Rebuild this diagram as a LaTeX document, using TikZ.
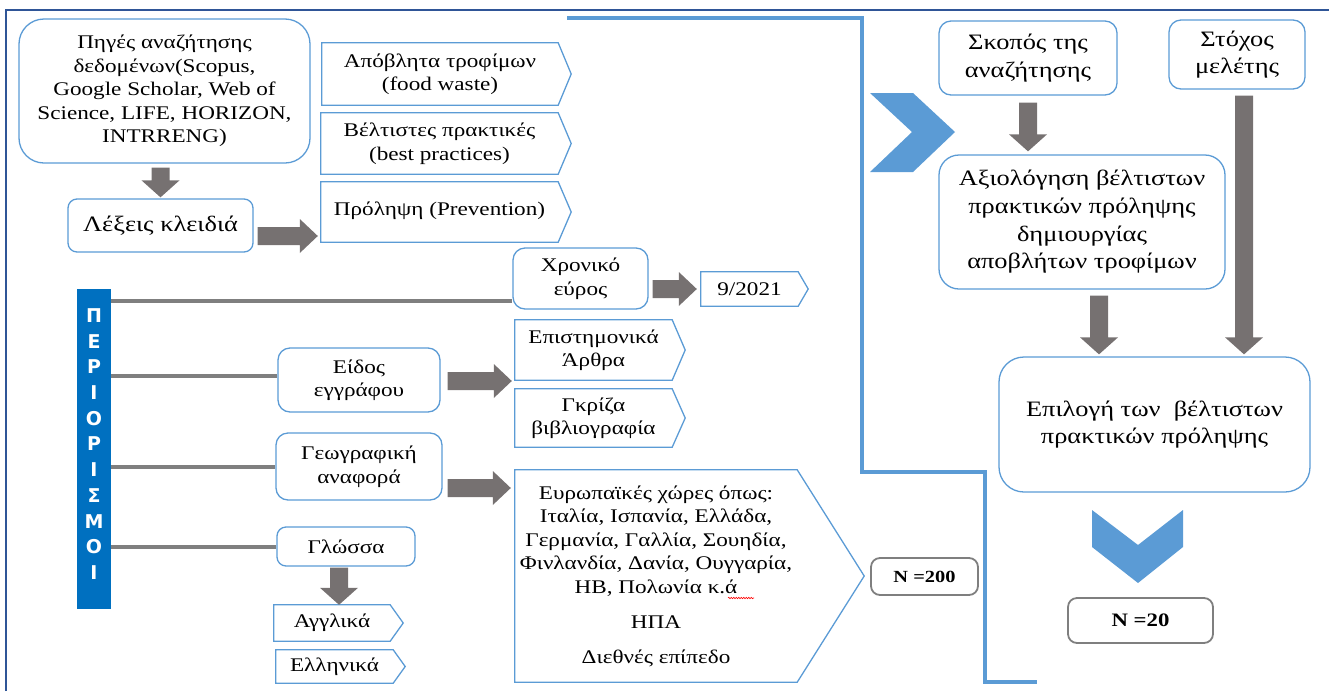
\documentclass[tikz,border=0pt]{standalone}
\usepackage{fontspec}
\setmainfont{Liberation Serif}[FakeStretch=1.2]
\newfontfamily\barfont{DejaVu Sans}
\usetikzlibrary{calc,decorations.pathmorphing}
\definecolor{boxblue}{HTML}{5B9BD5}
\definecolor{arrowgray}{HTML}{767171}
\definecolor{linegray}{HTML}{7F7F7F}
\definecolor{barblue}{HTML}{0070C0}
\definecolor{chevblue}{HTML}{5B9BD5}
\definecolor{frameblue}{HTML}{2F5597}
\definecolor{ngray}{HTML}{7F7F7F}
\newcommand\fs{\fontsize{19.3}{23.5}\selectfont}
\newcommand\fl{\fontsize{22}{27.7}\selectfont}
\newcommand\pentbox[2]{\draw[boxblue, line width=1.3pt, line join=miter] (#1.north west) -- (#1.north east) -- ([xshift=#2]#1.east) -- (#1.south east) -- (#1.south west) -- cycle;}
\newcommand\garrd[2]{\fill[arrowgray] ($(#1)+(-9,0)$) -- ($(#1)+(9,0)$) -- ($(#2)+(9,-17)$) -- ($(#2)+(19,-17)$) -- (#2) -- ($(#2)+(-19,-17)$) -- ($(#2)+(-9,-17)$) -- cycle;}
\newcommand\garrr[2]{\fill[arrowgray] ($(#1)+(0,-9)$) -- ($(#2)+(-18,-9)$) -- ($(#2)+(-18,-17)$) -- (#2) -- ($(#2)+(-18,17)$) -- ($(#2)+(-18,9)$) -- ($(#1)+(0,9)$) -- cycle;}
\tikzset{
  base/.style={inner sep=0pt, align=center, font=\fs},
  rbox/.style={base, draw=boxblue, line width=1.3pt, rounded corners=12pt},
  pbox/.style={base},
  nbox/.style={base, draw=ngray, line width=1.8pt, rounded corners=9pt, font=\fontsize{19}{22}\selectfont\bfseries},
  glines/.style={draw=linegray, line width=4pt},
  blueline/.style={draw=boxblue, line width=4pt, line join=miter},
}
\begin{document}
\begin{tikzpicture}[x=1pt, y=-1pt]
\useasboundingbox (0,0) rectangle (1329,691);
% frame
\draw[frameblue, line width=2pt] (6,691) -- (6,10) -- (1329,10);
% big blue L line
\draw[blueline] (567,18) -- (862,18) -- (862,472) -- (985,472) -- (985,682) -- (1037,682);
% chevrons
\fill[chevblue] (870,93) -- (913,93) -- (955,132) -- (913,172) -- (870,172) -- (912,132) -- cycle;
\fill[chevblue] (1092,510) -- (1138,545) -- (1183,510) -- (1183,547) -- (1138,583) -- (1092,547) -- cycle;

% left column
\node[rbox, rounded corners=25pt, minimum width=291pt, minimum height=144pt] (pig) at (164.5,91)
  {Πηγές αναζήτησης\\δεδομένων(Scopus,\\Google Scholar, Web of\\Science, LIFE, HORIZON,\\INTRRENG)};
\node[rbox, rounded corners=9pt, minimum width=185pt, minimum height=53pt, font=\fl] (lex) at (160.5,225.5)
  {\raisebox{4pt}{Λέξεις κλειδιά}};

% keyword pentagons
\node[pbox, minimum width=236pt, minimum height=62pt] (apo) at (440,74) {Απόβλητα τροφίμων\\(food waste)};
\node[pbox, minimum width=237pt, minimum height=61pt] (bel) at (439.5,143.5) {Βέλτιστες πρακτικές\\(best practices)};
\node[pbox, minimum width=237pt, minimum height=60pt] (pro) at (439.5,212) {\raisebox{7pt}{Πρόληψη (Prevention)}};
\pentbox{apo}{13}
\pentbox{bel}{13}
\pentbox{pro}{13}

% right column
\node[rbox, minimum width=178pt, minimum height=74pt, font=\fl] (skop) at (1028,58) {Σκοπός της\\αναζήτησης};
\node[rbox, minimum width=136pt, minimum height=69pt, font=\fl] (stox) at (1237,54.5) {Στόχος\\μελέτης};
\node[rbox, rounded corners=20pt, minimum width=286pt, minimum height=134pt, font=\fl] (axi) at (1082,222)
  {Αξιολόγηση βέλτιστων\\πρακτικών πρόληψης\\δημιουργίας\\αποβλήτων τροφίμων};
\node[rbox, rounded corners=25pt, minimum width=311pt, minimum height=135pt, font=\fl] (epi) at (1154.5,424.5)
  {\raisebox{5pt}{\begin{tabular}{@{}c@{}}Επιλογή των \ βέλτιστων\\[0.2pt]πρακτικών πρόληψης\end{tabular}}};
\node[nbox, minimum width=145pt, minimum height=45pt] (n20) at (1140.5,620.5) {N =20};
\node[nbox, minimum width=107pt, minimum height=37pt, font=\fontsize{17}{20}\selectfont\bfseries] (n200) at (924.5,576.5) {N =200};

% restrictions bar
\node[fill=barblue, minimum width=34pt, minimum height=320pt, inner sep=0pt] (bar) at (94,449) {};
\node[inner sep=0pt, align=center, text=white, font=\barfont\bfseries\fontsize{19}{25.7}\selectfont] (barlbl) at (94,444)
  {Π\\Ε\\Ρ\\Ι\\Ο\\Ρ\\Ι\\Σ\\Μ\\Ο\\Ι};

% restriction nodes
\node[rbox, minimum width=135pt, minimum height=61pt] (xro) at (580.5,278.5) {Χρονικό\\εύρος};
\node[pbox, minimum width=97pt, minimum height=34pt] (d9) at (749.5,289) {9/2021};
\pentbox{d9}{10}
\node[rbox, minimum width=162pt, minimum height=64pt] (eid) at (359,380) {Είδος\\εγγράφου};
\node[pbox, minimum width=157pt, minimum height=60pt] (art) at (593.5,350) {Επιστημονικά\\Άρθρα};
\node[pbox, minimum width=157pt, minimum height=58pt] (gkr) at (593.5,418) {Γκρίζα\\βιβλιογραφία};
\pentbox{art}{13}
\pentbox{gkr}{13}
\node[rbox, minimum width=166pt, minimum height=67pt] (geo) at (359,466.5) {Γεωγραφική\\αναφορά};
\node[pbox, minimum width=282pt, minimum height=212pt] (eur) at (656,576)
  {Ευρωπαϊκές χώρες όπως:\\Ιταλία, Ισπανία, Ελλάδα,\\Γερμανία, Γαλλία, Σουηδία,\\Φινλανδία, Δανία, Ουγγαρία,\\ΗΒ, Πολωνία κ.ά\\[11.5pt]ΗΠΑ\\[11.5pt]Διεθνές επίπεδο};
\pentbox{eur}{67}
\node[rbox, rounded corners=9pt, minimum width=138pt, minimum height=39pt] (glo) at (346,546.5) {Γλώσσα};
\node[pbox, minimum width=116pt, minimum height=36pt] (agg) at (332,623) {Αγγλικά};
\node[pbox, minimum width=117pt, minimum height=33pt] (ell) at (334.5,666.5) {Ελληνικά};
\pentbox{agg}{13}
\pentbox{ell}{12}
\draw[red, line width=0.6pt, decorate, decoration={snake, amplitude=0.7pt, segment length=2.5pt}] (728,598) -- (754,598);

% gray connector lines
\draw[glines] (bar.east |- 0,301) -- (xro.west |- 0,301);
\draw[glines] (bar.east |- 0,376) -- (eid.west |- 0,376);
\draw[glines] (bar.east |- geo.west) -- (geo.west);
\draw[glines] (bar.east |- glo.west) -- (glo.west);

% block arrows
\coordinate (a1s) at ($(lex.north |- pig.south)+(0,4)$);
\coordinate (a1e) at ($(lex.north)+(0,-1)$);
\garrd{a1s}{a1e}
\coordinate (a2s) at ($(lex.east)+(4,10.5)$);
\coordinate (a2e) at ($(pro.west |- lex.east)+(-3,10.5)$);
\garrr{a2s}{a2e}
\coordinate (a3s) at ($(xro.east |- d9.west)+(4,0)$);
\coordinate (a3e) at ($(d9.west)+(-4,0)$);
\garrr{a3s}{a3e}
\coordinate (a4s) at ($(eid.east)+(7,1)$);
\coordinate (a4e) at ($(art.south west |- eid.east)+(-3,1)$);
\garrr{a4s}{a4e}
\coordinate (a5s) at ($(geo.east)+(5,21.5)$);
\coordinate (a5e) at ($(eur.west |- geo.east)+(-4,21.5)$);
\garrr{a5s}{a5e}
\coordinate (a6s) at ($(glo.south)+(-7,1)$);
\coordinate (a6e) at ($(glo.south |- agg.north)+(-7,0)$);
\garrd{a6s}{a6e}
\coordinate (a7s) at ($(skop.south)+(0,7)$);
\coordinate (a7e) at ($(skop.south |- axi.north)+(0,-3)$);
\garrd{a7s}{a7e}
\coordinate (a8s) at ($(stox.south)+(7,6)$);
\coordinate (a8e) at ($(stox.south |- epi.north)+(7,-2)$);
\garrd{a8s}{a8e}
\coordinate (a9s) at ($(axi.south)+(17,6)$);
\coordinate (a9e) at ($(axi.south |- epi.north)+(17,-2)$);
\garrd{a9s}{a9e}
\end{tikzpicture}
\end{document}
